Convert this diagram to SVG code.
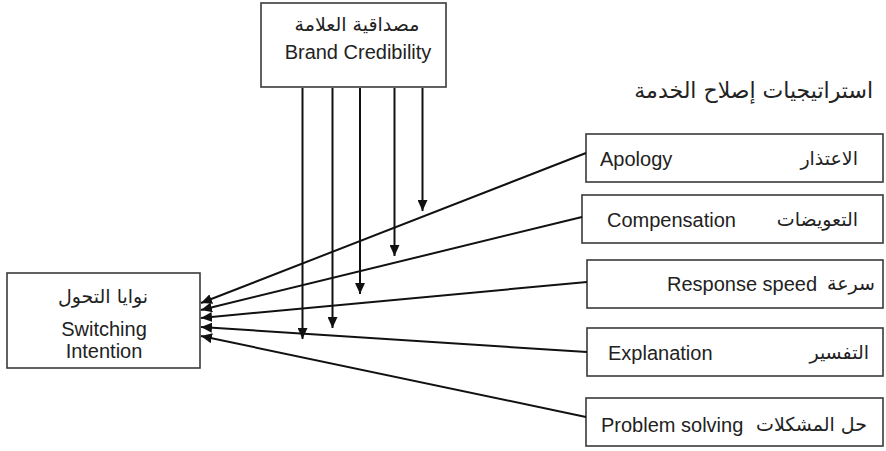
<svg xmlns="http://www.w3.org/2000/svg" width="886" height="451" viewBox="0 0 886 451">
<style>
.box{fill:#fff;stroke:#3a3a3a;stroke-width:1.6}
.t{font-family:"Liberation Sans","DejaVu Sans",sans-serif;font-size:20px;fill:#222}
.ar{font-family:"DejaVu Sans","Noto Sans",sans-serif;font-size:19px;fill:#222}
.c{stroke:#111;stroke-width:2;fill:none;marker-end:url(#ah)}
</style>
<defs>
<marker id="ah" markerUnits="userSpaceOnUse" markerWidth="12" markerHeight="10" refX="11" refY="5" orient="auto">
<path d="M0,0 L11,5 L0,10 Z" fill="#111"/>
</marker>
</defs>
<rect width="886" height="451" fill="#fff"/>
<g id="brand">
<rect class="box" x="261" y="3" width="185" height="84"/>
<text class="ar" x="357" y="31" text-anchor="middle">مصداقية العلامة</text>
<text class="t" x="358" y="59" text-anchor="middle">Brand Credibility</text>
</g>
<g id="title">
<text class="ar" x="873" y="98" text-anchor="end" style="font-size:22px">استراتيجيات إصلاح الخدمة</text>
</g>
<g id="switching">
<rect class="box" x="7" y="273" width="193" height="95"/>
<text class="ar" x="103" y="303" text-anchor="middle">نوايا التحول</text>
<text class="t" x="104" y="336" text-anchor="middle">Switching</text>
<text class="t" x="104" y="358" text-anchor="middle">Intention</text>
</g>
<g id="apology">
<rect class="box" x="586" y="134" width="297" height="48"/>
<text class="t" x="600" y="166">Apology</text>
<text class="ar" x="858" y="165" text-anchor="end">الاعتذار</text>
</g>
<g id="compensation">
<rect class="box" x="582" y="195" width="301" height="48"/>
<text class="t" x="607" y="227">Compensation</text>
<text class="ar" x="858" y="226" text-anchor="end">التعويضات</text>
</g>
<g id="response">
<rect class="box" x="587" y="260" width="296" height="48"/>
<text class="t" x="667" y="291">Response speed</text>
<text class="ar" x="875" y="290" text-anchor="end">سرعة</text>
</g>
<g id="explanation">
<rect class="box" x="587" y="328" width="296" height="48"/>
<text class="t" x="608" y="360">Explanation</text>
<text class="ar" x="869" y="359" text-anchor="end">التفسير</text>
</g>
<g id="problem">
<rect class="box" x="586" y="398" width="297" height="48"/>
<text class="t" x="601" y="432">Problem solving</text>
<text class="ar" x="867" y="431" text-anchor="end">حل المشكلات</text>
</g>
<g id="connectors">
<line class="c" x1="586" y1="153" x2="201" y2="303"/>
<line class="c" x1="582" y1="217" x2="201" y2="310"/>
<line class="c" x1="587" y1="282" x2="201" y2="318"/>
<line class="c" x1="587" y1="352" x2="201" y2="327"/>
<line class="c" x1="586" y1="417" x2="201" y2="336"/>
<line class="c" x1="302.5" y1="88" x2="302.5" y2="339"/>
<line class="c" x1="332.5" y1="88" x2="332.5" y2="328"/>
<line class="c" x1="360" y1="88" x2="360" y2="294"/>
<line class="c" x1="394.5" y1="88" x2="394.5" y2="256"/>
<line class="c" x1="422.5" y1="88" x2="422.5" y2="211"/>
</g>
</svg>
